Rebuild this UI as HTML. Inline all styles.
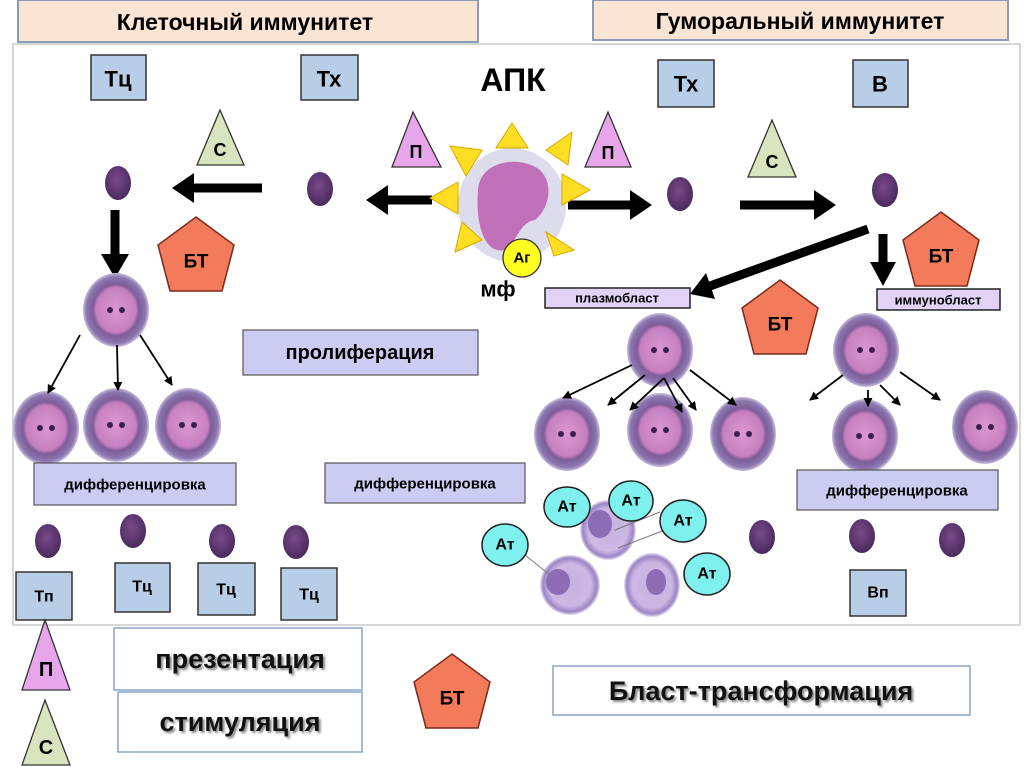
<!DOCTYPE html>
<html><head><meta charset="utf-8"><style>
html,body{margin:0;padding:0;background:#fff}
svg{display:block}
text{font-family:"Liberation Sans","DejaVu Sans",sans-serif;font-weight:bold;text-anchor:middle;dominant-baseline:central}
</style></head><body>
<svg width="1024" height="767" viewBox="0 0 1024 767" xmlns="http://www.w3.org/2000/svg">
<defs>
<radialGradient id="sc" cx="45%" cy="40%" r="60%"><stop offset="0" stop-color="#7a4a8a"/><stop offset="1" stop-color="#4a2a5e"/></radialGradient>
<radialGradient id="bc" cx="50%" cy="50%" r="50%"><stop offset="0" stop-color="#dc96d0"/><stop offset="0.6" stop-color="#c680c0"/><stop offset="0.7" stop-color="#7e5c98"/><stop offset="0.9" stop-color="#8c78b0"/><stop offset="1" stop-color="#c8bedc"/></radialGradient>
<radialGradient id="pc" cx="50%" cy="50%" r="50%"><stop offset="0" stop-color="#c6b0e0"/><stop offset="0.7" stop-color="#cdb8e4"/><stop offset="0.9" stop-color="#9c84c4"/><stop offset="1" stop-color="#e8e0f4"/></radialGradient>
<marker id="ah" markerWidth="9" markerHeight="9" refX="8" refY="4.5" orient="auto" markerUnits="userSpaceOnUse"><path d="M0,0 L9,4.5 L0,9 Z" fill="#000"/></marker>
<g id="small"><ellipse cx="0" cy="0" rx="13" ry="17" fill="url(#sc)"/></g>
<g id="big"><ellipse cx="0" cy="0" rx="33" ry="37" fill="url(#bc)"/><circle cx="-6" cy="0" r="3" fill="#3a2050"/><circle cx="6" cy="0" r="3" fill="#3a2050"/></g>
<g id="pent"><polygon points="0,-38 38,-10 26,36 -26,36 -38,-10" fill="#f47a5c" stroke="#7a2a1a" stroke-width="1.5"/></g>
</defs>

<rect x="18" y="0" width="460" height="42" fill="#fae4d4" stroke="#8a9ab8" stroke-width="2"/>
<text x="245" y="22" font-size="23">Клеточный   иммунитет</text>
<rect x="593" y="0" width="415" height="40" fill="#fae4d4" stroke="#8a9ab8" stroke-width="2"/>
<text x="800" y="21" font-size="23">Гуморальный   иммунитет</text>

<rect x="13" y="44" width="1007" height="581" fill="#fff" stroke="#c8c8c8" stroke-width="1.5"/>

<g fill="#b8cde6" stroke="#333" stroke-width="1.5">
<rect x="91" y="55" width="55" height="45"/><rect x="301" y="55" width="57" height="45"/>
<rect x="658" y="60" width="56" height="47"/><rect x="853" y="60" width="55" height="47"/>
</g>
<text x="118" y="79" font-size="22">Тц</text><text x="329" y="79" font-size="22">Тх</text>
<text x="686" y="84" font-size="22">Тх</text><text x="880" y="84" font-size="22">В</text>
<text x="513" y="80" font-size="32">АПК</text>

<polygon points="220,110 197,165 244,165" fill="#d7e4bd" stroke="#333" stroke-width="1.3"/><text x="220" y="150" font-size="18" font-weight="normal">С</text>
<polygon points="413,112 392,167 441,167" fill="#e8a6ea" stroke="#333" stroke-width="1.3"/><text x="416" y="152" font-size="18">П</text>
<polygon points="608,112 585,167 631,167" fill="#e8a6ea" stroke="#333" stroke-width="1.3"/><text x="608" y="153" font-size="18">П</text>
<polygon points="772,120 748,177 796,177" fill="#d7e4bd" stroke="#333" stroke-width="1.3"/><text x="772" y="162" font-size="18" font-weight="normal">С</text>

<use href="#small" x="118" y="183"/><use href="#small" x="320" y="189"/><use href="#small" x="680" y="194"/><use href="#small" x="885" y="190"/>

<g stroke="#000" stroke-width="9" fill="#000">
<line x1="262" y1="188" x2="190" y2="188"/><polygon points="172,188 194,173 194,203" stroke="none"/>
<line x1="432" y1="200" x2="386" y2="200"/><polygon points="366,200 388,185 388,215" stroke="none"/>
<line x1="568" y1="205" x2="632" y2="205"/><polygon points="652,205 630,190 630,220" stroke="none"/>
<line x1="740" y1="205" x2="816" y2="205"/><polygon points="836,205 814,190 814,220" stroke="none"/>
<line x1="115" y1="210" x2="115" y2="256"/><polygon points="115,278 101,254 129,254" stroke="none"/>
<line x1="883" y1="234" x2="883" y2="264"/><polygon points="883,286 870,262 896,262" stroke="none"/>
<line x1="868" y1="229" x2="710" y2="286"/><polygon points="690,294 706,273 715,299" stroke="none"/>
</g>

<!-- APC -->
<ellipse cx="512" cy="205" rx="54" ry="57" fill="#dcdcec"/>
<g fill="#ffdd22" stroke="#d8a800" stroke-width="1">
<polygon points="512,123 496,148 528,148"/>
<polygon points="450,146 482,150 466,176"/>
<polygon points="572,132 546,150 568,165"/>
<polygon points="430,198 458,182 458,214"/>
<polygon points="590,190 562,174 562,205"/>
<polygon points="455,252 462,222 482,240"/>
<polygon points="574,250 546,232 554,256"/>
</g>
<path d="M478,190 C480,160 520,155 540,170 C555,185 548,210 535,220 C520,222 518,240 505,250 C485,255 475,225 478,190 Z" fill="#c070b8"/>
<circle cx="522" cy="258" r="19" fill="#ffff22" stroke="#333" stroke-width="1.3"/>
<text x="522" y="258" font-size="15" font-weight="normal">Аг</text>
<text x="498" y="289" font-size="22">мф</text>

<use href="#pent" x="196" y="255"/><text x="196" y="262" font-size="19">БТ</text>
<use href="#pent" x="941" y="250"/><text x="941" y="257" font-size="19">БТ</text>
<use href="#pent" x="780" y="318"/><text x="780" y="325" font-size="19">БТ</text>
<use href="#pent" x="452" y="692"/><text x="452" y="699" font-size="19">БТ</text>

<rect x="545" y="288" width="145" height="20" fill="#e2d2f6" stroke="#222" stroke-width="1.5"/><text x="617" y="298" font-size="13">плазмобласт</text>
<rect x="877" y="289" width="123" height="21" fill="#e2d2f6" stroke="#222" stroke-width="1.5"/><text x="938" y="300" font-size="13">иммунобласт</text>

<rect x="243" y="330" width="235" height="45" fill="#ccccf2" stroke="#555" stroke-width="1.2"/><text x="360" y="353" font-size="20">пролиферация</text>

<use href="#big" x="116" y="310"/>
<use href="#big" x="46" y="428"/><use href="#big" x="116" y="425"/><use href="#big" x="188" y="425"/>
<g stroke="#000" stroke-width="1.8" marker-end="url(#ah)">
<line x1="80" y1="335" x2="48" y2="393"/><line x1="117" y1="345" x2="118" y2="390"/><line x1="140" y1="335" x2="172" y2="385"/>
</g>

<use href="#big" x="660" y="350"/><use href="#big" x="866" y="350"/>
<use href="#big" x="567" y="434"/><use href="#big" x="660" y="430"/><use href="#big" x="743" y="434"/>
<use href="#big" x="865" y="436"/><use href="#big" x="985" y="427"/>
<g stroke="#000" stroke-width="1.8" marker-end="url(#ah)">
<line x1="632" y1="365" x2="563" y2="398"/><line x1="645" y1="375" x2="608" y2="405"/><line x1="664" y1="378" x2="630" y2="410"/>
<line x1="664" y1="378" x2="682" y2="412"/><line x1="673" y1="378" x2="696" y2="410"/><line x1="690" y1="370" x2="736" y2="405"/>
<line x1="843" y1="375" x2="810" y2="400"/><line x1="868" y1="390" x2="868" y2="406"/><line x1="880" y1="385" x2="900" y2="405"/><line x1="900" y1="372" x2="940" y2="400"/>
</g>

<rect x="34" y="463" width="202" height="42" fill="#ccccf2" stroke="#555" stroke-width="1.2"/><text x="135" y="485" font-size="15">дифференцировка</text>
<rect x="325" y="463" width="200" height="40" fill="#ccccf2" stroke="#555" stroke-width="1.2"/><text x="425" y="484" font-size="15">дифференцировка</text>
<rect x="797" y="470" width="201" height="40" fill="#ccccf2" stroke="#555" stroke-width="1.2"/><text x="897" y="491" font-size="15">дифференцировка</text>

<use href="#small" x="48" y="541"/><use href="#small" x="133" y="531"/><use href="#small" x="222" y="541"/><use href="#small" x="296" y="542"/>
<use href="#small" x="762" y="537"/><use href="#small" x="862" y="536"/><use href="#small" x="952" y="540"/>

<g fill="#b8cde6" stroke="#333" stroke-width="1.5">
<rect x="16" y="572" width="56" height="48"/><rect x="115" y="563" width="55" height="49"/><rect x="198" y="563" width="57" height="52"/><rect x="281" y="568" width="56" height="52"/><rect x="850" y="570" width="56" height="46"/>
</g>
<g font-weight="normal" font-size="16">
<text x="44" y="597">Тп</text><text x="142" y="587">Тц</text><text x="226" y="590">Тц</text><text x="309" y="595">Тц</text><text x="878" y="593">Вп</text>
</g>

<ellipse cx="608" cy="530" rx="28" ry="30" fill="url(#pc)"/><ellipse cx="600" cy="524" rx="12" ry="14" fill="#8c6cb4"/>
<ellipse cx="570" cy="585" rx="30" ry="30" fill="url(#pc)"/><ellipse cx="558" cy="582" rx="12" ry="13" fill="#8c6cb4"/>
<ellipse cx="652" cy="585" rx="28" ry="32" fill="url(#pc)"/><ellipse cx="656" cy="582" rx="10" ry="13" fill="#8c6cb4"/>
<g stroke="#777" stroke-width="1"><line x1="525" y1="555" x2="550" y2="575"/><line x1="665" y1="530" x2="618" y2="548"/><line x1="660" y1="512" x2="615" y2="530"/></g>

<g fill="#7ef0ee" stroke="#222" stroke-width="1.5">
<ellipse cx="567" cy="507" rx="23" ry="20"/><ellipse cx="631" cy="501" rx="22" ry="20"/><ellipse cx="683" cy="521" rx="23" ry="21"/><ellipse cx="505" cy="545" rx="23" ry="21"/><ellipse cx="707" cy="574" rx="23" ry="21"/>
</g>
<g font-weight="normal" font-size="16">
<text x="567" y="507">Ат</text><text x="631" y="501">Ат</text><text x="683" y="521">Ат</text><text x="505" y="545">Ат</text><text x="707" y="574">Ат</text>
</g>

<polygon points="45,620 22,690 70,690" fill="#e8a6ea" stroke="#333" stroke-width="1.3"/><text x="46" y="670" font-size="20">П</text>
<polygon points="45,700 22,765 70,765" fill="#d7e4bd" stroke="#333" stroke-width="1.3"/><text x="46" y="748" font-size="20">С</text>
<rect x="114" y="628" width="248" height="62" fill="#fff" stroke="#8aa4c8" stroke-width="1.5"/>
<text x="240" y="659" font-size="27" fill="#111" style="text-shadow:2px 2px 2px #888">презентация</text>
<rect x="118" y="692" width="244" height="60" fill="#fff" stroke="#8aa4c8" stroke-width="1.5"/>
<text x="240" y="722" font-size="27" fill="#111" style="text-shadow:2px 2px 2px #888">стимуляция</text>
<rect x="553" y="666" width="417" height="49" fill="#fff" stroke="#8aa4c8" stroke-width="1.5"/>
<text x="761" y="691" font-size="27" fill="#111" style="text-shadow:2px 2px 2px #888">Бласт-трансформация</text>
</svg>
</body></html>
